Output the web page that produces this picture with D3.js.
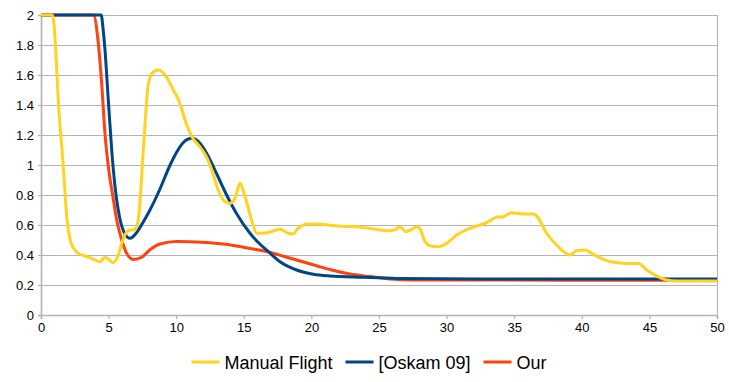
<!DOCTYPE html>
<html>
<head>
<meta charset="utf-8">
<script src="https://cdn.jsdelivr.net/npm/d3@7"></script>
<style>
  body { margin: 0; background: #fff; }
  text { font-family: "Liberation Sans", Arial, sans-serif; fill: #000; }
</style>
</head>
<body>
<div id="chart"></div>
<script>
// data, [x, y]
var manualFlight = [[0,2],[0.85,2],[0.95,1.95],[1.1,1.75],[1.28,1.43],[1.65,0.99],[1.9,0.66],[2.22,0.48],[2.64,0.42],
  [2.88,0.405],[3.38,0.39],[3.87,0.372],[4.36,0.355],[4.73,0.385],[4.98,0.371],[5.35,0.349],[5.72,0.4],[6.09,0.51],
  [6.46,0.562],[6.95,0.571],[7.2,0.64],[7.57,1.1],[7.94,1.54],[8.3,1.62],[8.68,1.633],[9.17,1.6],[9.79,1.5],
  [10.28,1.41],[10.65,1.3],[11.15,1.19],[11.76,1.12],[12.26,1.05],[12.63,0.967],[13.11,0.833],[13.61,0.755],
  [13.98,0.745],[14.35,0.778],[14.72,0.878],[15.09,0.789],[15.58,0.633],[15.95,0.545],[16.69,0.549],[17.68,0.571],
  [18.29,0.545],[18.6,0.54],[19.03,0.578],[19.65,0.607],[20.39,0.607],[21.37,0.598],[22.36,0.591],[23.6,0.587],
  [24.58,0.573],[25.81,0.562],[26.23,0.571],[26.55,0.589],[26.97,0.555],[27.41,0.571],[27.79,0.589],[28.08,0.567],
  [28.4,0.489],[28.77,0.462],[29.39,0.455],[30.0,0.478],[30.75,0.533],[31.73,0.578],[32.97,0.616],[33.82,0.655],
  [34.07,0.651],[34.8,0.682],[35.43,0.675],[36.41,0.673],[36.66,0.66],[37.4,0.545],[38.26,0.455],[39.13,0.4],
  [39.62,0.429],[40.24,0.433],[40.73,0.411],[41.6,0.371],[42.33,0.351],[43.32,0.344],[44.18,0.344],[44.8,0.3],
  [45.54,0.26],[46.28,0.233],[47.0,0.227],[50,0.227]];

var oskam09 = [[0,2],[4.45,2],[4.6,1.9],[4.73,1.77],[4.98,1.43],[5.23,1.1],[5.47,0.86],[5.84,0.64],[6.21,0.54],
  [6.58,0.511],[7.08,0.55],[7.5,0.61],[8.0,0.69],[8.8,0.84],[9.5,0.99],[10.0,1.08],[10.53,1.15],[11.15,1.178],
  [11.76,1.145],[12.3,1.07],[13.0,0.94],[13.73,0.8],[14.47,0.675],[15.46,0.545],[16.0,0.49],[16.85,0.42],[17.68,0.355],
  [18.91,0.3],[20.14,0.272],[21.37,0.26],[23.84,0.251],[26.31,0.244],[32.5,0.24],[50,0.24]];

var ourMethod = [[0,2],[3.87,2],[4.24,1.81],[4.49,1.54],[4.73,1.21],[4.98,0.99],[5.35,0.77],[5.6,0.633],[5.97,0.5],
  [6.34,0.411],[6.83,0.37],[7.45,0.385],[8.06,0.435],[8.8,0.473],[10.04,0.49],[11.02,0.489],[13.49,0.473],
  [15.46,0.444],[16.85,0.42],[18.0,0.39],[19.16,0.36],[20.5,0.325],[21.5,0.3],[22.85,0.273],[24.33,0.256],
  [25.81,0.24],[27.54,0.233],[50,0.232]];

var seriesNames = ["Manual Flight", "[Oskam 09]", "Our"];
var seriesData = [manualFlight, oskam09, ourMethod];
var seriesColors = ["#ffd320", "#004586", "#ff420e"];

var xTicks = [0, 5, 10, 15, 20, 25, 30, 35, 40, 45, 50];
var yTicks = [0, 0.2, 0.4, 0.6, 0.8, 1, 1.2, 1.4, 1.6, 1.8, 2];

var W = 729, H = 382;
var margin = { top: 15, right: 12, bottom: 67, left: 41 },
    width = W - margin.left - margin.right,
    height = H - margin.top - margin.bottom;

var svg = d3.select("#chart").append("svg")
    .attr("width", W).attr("height", H);

var g = svg.append("g")
    .attr("transform", "translate(" + margin.left + "," + margin.top + ")");

var x = d3.scaleLinear().domain([0, 50]).range([0, width]);
var y = d3.scaleLinear().domain([0, 2]).range([height, 0]);

// horizontal grid
g.selectAll(".grid").data(yTicks.filter(function (d) { return d > 0; }))
  .enter().append("line")
  .attr("x1", 0).attr("x2", width)
  .attr("y1", function (d) { return Math.round(y(d)) + 0.5; })
  .attr("y2", function (d) { return Math.round(y(d)) + 0.5; })
  .attr("stroke", "#b3b3b3").attr("stroke-width", 1);

// right border
g.append("line")
  .attr("x1", width + 0.5).attr("x2", width + 0.5)
  .attr("y1", 0).attr("y2", height)
  .attr("stroke", "#b3b3b3").attr("stroke-width", 1);

// x axis
var xAxis = g.append("g")
  .attr("transform", "translate(0," + height + ")")
  .call(d3.axisBottom(x).tickValues(xTicks).tickSize(4).tickPadding(4).tickFormat(d3.format("d")));

// y axis
var yAxis = g.append("g")
  .call(d3.axisLeft(y).tickValues(yTicks).tickSize(3).tickPadding(4).tickFormat(d3.format("~g")));

[xAxis, yAxis].forEach(function (a) {
  a.select(".domain").attr("stroke", "#b3b3b3").attr("stroke-width", 1.6);
  a.selectAll(".tick line").attr("stroke", "#b3b3b3").attr("stroke-width", 1.2);
  a.selectAll(".tick text").attr("font-size", "13px").attr("fill", "#000")
    .style("font-family", "'Liberation Sans', Arial, sans-serif");
});

// lines, drawn back to front (red, blue, yellow on top)
var line = d3.line()
  .x(function (d) { return x(d[0]); })
  .y(function (d) { return y(d[1]); })
  .curve(d3.curveMonotoneX);

for (var i = seriesData.length - 1; i >= 0; i--) {
  g.append("path")
    .datum(seriesData[i])
    .attr("fill", "none")
    .attr("stroke", seriesColors[i])
    .attr("stroke-width", 3)
    .attr("stroke-linejoin", "round")
    .attr("d", line);
}

// legend
var legend = svg.append("g").attr("transform", "translate(0,362)");
var pos = 0;
seriesNames.forEach(function (name, i) {
  var it = legend.append("g");
  it.append("line").attr("x1", 0).attr("x2", 28).attr("y1", 0).attr("y2", 0)
    .attr("stroke", seriesColors[i]).attr("stroke-width", 3);
  var t = it.append("text").attr("x", 33).attr("y", 6.5)
    .attr("font-size", "18px").text(name);
  var w = 33 + t.node().getComputedTextLength();
  it.attr("transform", "translate(" + pos + ",0)");
  pos += w + 13;
});
var total = pos - 13;
legend.attr("transform", "translate(" + (369 - total / 2) + ",362)");
</script>
</body>
</html>
